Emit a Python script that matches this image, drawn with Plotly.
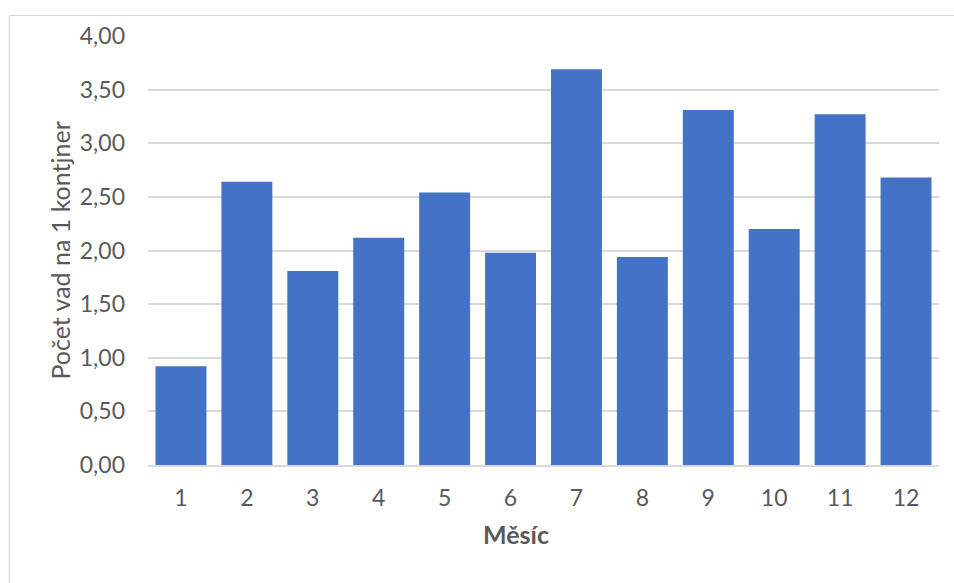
import plotly.graph_objects as go

# Monthly defect rate per container
months = ["1", "2", "3", "4", "5", "6", "7", "8", "9", "10", "11", "12"]
defects_per_container = [0.92, 2.64, 1.81, 2.12, 2.54, 1.98, 3.69, 1.94, 3.31, 2.20, 3.27, 2.68]

x_title = "Měsíc"
y_title = "Počet vad na 1 kontjner"

bar_color = "#4472C4"
text_color = "#595959"
grid_color = "#D9D9D9"
font_family = "Lato, Calibri, Carlito, sans-serif"

fig = go.Figure(
    go.Bar(
        x=months,
        y=defects_per_container,
        marker=dict(color=bar_color, line=dict(width=0)),
        hovertemplate="%{x}: %{y:.2f}<extra></extra>",
    )
)

# plot area geometry in pixels
W, H = 954, 583
L, R, T, B = 147.5, 14.5, 36, 118
pw, ph = W - L - R, H - T - B

def px_x(x):
    return (x - L) / pw

def px_y(y):
    return (H - B - y) / ph

fig.update_layout(
    width=W,
    height=H,
    margin=dict(l=L, r=R, t=T, b=B, pad=0),
    paper_bgcolor="white",
    plot_bgcolor="white",
    separators=",.",
    bargap=0.227,
    showlegend=False,
    font=dict(family=font_family, size=23, color=text_color),
    xaxis=dict(
        type="category",
        showgrid=False,
        showline=True,
        linecolor=grid_color,
        linewidth=1.5,
        ticks="",
        ticklabelstandoff=12,
        tickfont=dict(size=23, color=text_color),
        fixedrange=True,
    ),
    yaxis=dict(
        range=[0, 4],
        tick0=0,
        dtick=0.5,
        tickformat=".2f",
        showgrid=True,
        gridcolor=grid_color,
        gridwidth=1.5,
        zeroline=False,
        showline=False,
        ticks="",
        ticklabelstandoff=22,
        tickfont=dict(size=23, color=text_color),
        fixedrange=True,
    ),
    annotations=[
        dict(
            text=f"<b>{x_title}</b>",
            xref="paper", yref="paper",
            x=px_x(516), y=px_y(534),
            xanchor="center", yanchor="middle",
            showarrow=False,
            font=dict(size=25, color=text_color, family=font_family),
        ),
        dict(
            text=y_title,
            textangle=-90,
            xref="paper", yref="paper",
            x=px_x(59), y=px_y(251),
            xanchor="center", yanchor="middle",
            showarrow=False,
            font=dict(size=25, color=text_color, family=font_family),
        ),
    ],
    shapes=[
        # chart area border (top and left edges)
        dict(type="line", xref="paper", yref="paper",
             x0=px_x(8.5), x1=px_x(960), y0=px_y(15.5), y1=px_y(15.5),
             line=dict(color=grid_color, width=1.2)),
        dict(type="line", xref="paper", yref="paper",
             x0=px_x(8.5), x1=px_x(8.5), y0=px_y(15.5), y1=px_y(600),
             line=dict(color=grid_color, width=1.2)),
    ],
)

fig.write_html("out.html", config={"displayModeBar": False})
